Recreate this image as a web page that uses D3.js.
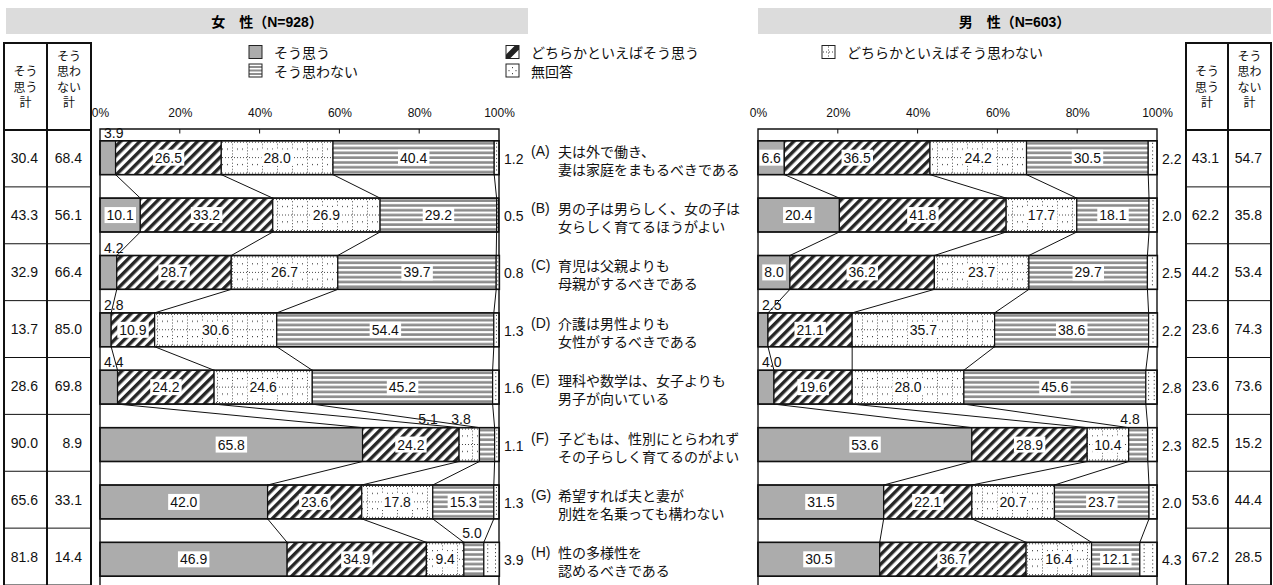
<!DOCTYPE html>
<html><head><meta charset="utf-8">
<script src="https://cdn.jsdelivr.net/npm/d3@7"></script>
<style>body{margin:0;background:#fff}svg{display:block}</style>
</head><body>
<svg id="c" width="1273" height="585"></svg>
<script>
// ---------------- DATA ----------------
const questions = ["A","B","C","D","E","F","G","H"];
const questionText = [
  ["夫は外で働き、","妻は家庭をまもるべきである"],
  ["男の子は男らしく、女の子は","女らしく育てるほうがよい"],
  ["育児は父親よりも","母親がするべきである"],
  ["介護は男性よりも","女性がするべきである"],
  ["理科や数学は、女子よりも","男子が向いている"],
  ["子どもは、性別にとらわれず","その子らしく育てるのがよい"],
  ["希望すれば夫と妻が","別姓を名乗っても構わない"],
  ["性の多様性を","認めるべきである"]
];
const categories = ["そう思う","どちらかといえばそう思う","どちらかといえばそう思わない","そう思わない","無回答"];
const female = [
  [3.9,26.5,28.0,40.4,1.2],
  [10.1,33.2,26.9,29.2,0.5],
  [4.2,28.7,26.7,39.7,0.8],
  [2.8,10.9,30.6,54.4,1.3],
  [4.4,24.2,24.6,45.2,1.6],
  [65.8,24.2,5.1,3.8,1.1],
  [42.0,23.6,17.8,15.3,1.3],
  [46.9,34.9,9.4,5.0,3.9]
];
const male = [
  [6.6,36.5,24.2,30.5,2.2],
  [20.4,41.8,17.7,18.1,2.0],
  [8.0,36.2,23.7,29.7,2.5],
  [2.5,21.1,35.7,38.6,2.2],
  [4.0,19.6,28.0,45.6,2.8],
  [53.6,28.9,10.4,4.8,2.3],
  [31.5,22.1,20.7,23.7,2.0],
  [30.5,36.7,16.4,12.1,4.3]
];
const femaleAgree    = [30.4,43.3,32.9,13.7,28.6,90.0,65.6,81.8];
const femaleDisagree = [68.4,56.1,66.4,85.0,69.8,8.9,33.1,14.4];
const maleAgree      = [43.1,62.2,44.2,23.6,23.6,82.5,53.6,67.2];
const maleDisagree   = [54.7,35.8,53.4,74.3,73.6,15.2,44.4,28.5];
const tickValues = [0,20,40,60,80,100];
const titles = ["女　性（N=928）","男　性（N=603）"];
const tableHeaders = [["そう","思う","計"],["そう","思わ","ない","計"]];

// ---------------- SETUP ----------------
const NUM = "'Liberation Sans', Arial, sans-serif";
const JP = "'Noto Sans CJK JP', sans-serif";
const MIX = "'Liberation Sans', 'Noto Sans CJK JP', sans-serif";
const svg = d3.select("#c");
const defs = svg.append("defs");

const pDiag = defs.append("pattern").attr("id","pDiag").attr("patternUnits","userSpaceOnUse")
  .attr("width",6.8).attr("height",6.8).attr("patternTransform","rotate(45)");
pDiag.append("rect").attr("width",6.8).attr("height",6.8).attr("fill","#fff");
pDiag.append("rect").attr("width",3.4).attr("height",6.8).attr("fill","#262626");

const yBar = d3.scaleBand().domain(questions).range([129, 588]).paddingInner(0.41).paddingOuter(0.205);
const yTab = d3.scaleBand().domain(questions).range([130, 585]);
const bw = yBar.bandwidth();

function horPattern(id, top) {
  const p = defs.append("pattern").attr("id", id).attr("patternUnits","userSpaceOnUse")
    .attr("x",0).attr("y",top).attr("width",4).attr("height",4.8);
  p.append("rect").attr("width",4).attr("height",4.8).attr("fill","#fff");
  p.append("rect").attr("y",1.2).attr("width",4).attr("height",2.6).attr("fill","#8a8a8a");
}
function gridPattern(id, top) {
  const h = (bw - 3) / 2;
  const p = defs.append("pattern").attr("id", id).attr("patternUnits","userSpaceOnUse")
    .attr("x",0).attr("y",top).attr("width",15).attr("height",h);
  p.append("rect").attr("width",15).attr("height",h).attr("fill","#fff");
  p.append("line").attr("x1",0).attr("x2",15).attr("y1",1.5).attr("y2",1.5)
    .attr("stroke","#444").attr("stroke-width",1).attr("stroke-dasharray","1,2");
  p.append("line").attr("x1",7.5).attr("x2",7.5).attr("y1",0).attr("y2",h)
    .attr("stroke","#444").attr("stroke-width",1).attr("stroke-dasharray","1,2.2");
  p.append("rect").attr("x",2).attr("y",h/2).attr("width",1).attr("height",1.2).attr("fill","#444");
  p.append("rect").attr("x",12).attr("y",h/2).attr("width",1).attr("height",1.2).attr("fill","#444");
}

const panels = [
  {data: female, agree: femaleAgree, disagree: femaleDisagree, x0: 100, x1: 499, band: [6,528], title: titles[0], table: [4,47,91], key: "f"},
  {data: male, agree: maleAgree, disagree: maleDisagree, x0: 758, x1: 1157, band: [758,1271], title: titles[1], table: [1186,1228,1271], key: "m"}
];

panels.forEach(P => {
  const x = d3.scaleLinear().domain([0,100]).range([P.x0, P.x1]);
  svg.append("rect").attr("x",P.band[0]).attr("y",8).attr("width",P.band[1]-P.band[0]).attr("height",26).attr("fill","#dcdcdc");
  svg.append("text").attr("x",(P.band[0]+P.band[1])/2).attr("y",21.5).attr("text-anchor","middle")
    .attr("dominant-baseline","central").attr("font-family",MIX).attr("font-weight","bold").attr("font-size",14).text(P.title);

  const ax = svg.append("g").attr("transform","translate(0,113)")
    .call(d3.axisTop(x).tickValues(tickValues).tickSize(0).tickFormat(d => d + "%"));
  ax.select(".domain").remove();
  ax.selectAll("text").attr("y",0).attr("dy",null).attr("dominant-baseline","central")
    .attr("font-family",NUM).attr("font-size",12).attr("fill","#111");

  svg.append("path").attr("d",`M${P.x0},590V129H${P.x1}V590`).attr("fill","none").attr("stroke","#111").attr("stroke-width",1.4);
  svg.selectAll(null).data(tickValues.slice(1,-1)).enter().append("line")
    .attr("x1",d=>x(d)).attr("x2",d=>x(d)).attr("y1",129).attr("y2",133.5).attr("stroke","#111").attr("stroke-width",1);

  const rows = P.data.map((vals, i) => {
    let cum = 0;
    const segs = vals.map((v,k) => { const s = {k, v, a: cum, b: cum + v}; cum += v; return s; });
    return {i, q: questions[i], top: yBar(questions[i]), segs};
  });

  const gConn = svg.append("g");
  for (let i = 0; i < rows.length - 1; i++) {
    for (let k = 0; k < 4; k++) {
      gConn.append("line")
        .attr("x1", x(rows[i].segs[k].b)).attr("y1", rows[i].top + bw)
        .attr("x2", x(rows[i+1].segs[k].b)).attr("y2", rows[i+1].top)
        .attr("stroke","#111").attr("stroke-width",1);
    }
  }

  rows.forEach(r => {
    const gid = `grid-${P.key}-${r.i}`, hid = `hor-${P.key}-${r.i}`;
    gridPattern(gid, r.top); horPattern(hid, r.top);
    const fills = ["#acacac","url(#pDiag)",`url(#${gid})`,`url(#${hid})`,"#fff"];
    const g = svg.append("g");
    r.segs.forEach(s => {
      const xa = x(s.a), xb = x(s.b);
      g.append("rect").attr("x",xa).attr("y",r.top).attr("width",Math.max(0,xb-xa)).attr("height",bw)
        .attr("fill",fills[s.k]).attr("stroke","#111").attr("stroke-width",1.2);
      if (s.k === 4) {
        const w = xb - xa, n = Math.max(1, Math.round(w / 7));
        for (let j = 0; j < n; j++) {
          const cx = xa + (j + 0.5) * w / n;
          g.append("line").attr("x1",cx).attr("x2",cx).attr("y1",r.top+2).attr("y2",r.top+bw-2)
            .attr("stroke","#444").attr("stroke-width",1).attr("stroke-dasharray","1.2,2.6");
        }
      }
    });
    g.append("rect").attr("x",x(0)).attr("y",r.top).attr("width",x(r.segs[4].b)-x(0)).attr("height",bw)
      .attr("fill","none").attr("stroke","#111").attr("stroke-width",1.5);

    const cy = r.top + bw/2;
    const above = r.segs.filter(s => s.k >= 1 && s.k <= 3 && s.v < 6);
    let pos = {};
    if (above.length > 1) {
      let cx = P.x1 - 38;
      above.slice().reverse().forEach(s => { pos[s.k] = cx; cx -= 33; });
    } else if (above.length === 1) {
      const s = above[0];
      pos[s.k] = Math.min(x((s.a+s.b)/2), P.x1 - 27);
    }
    r.segs.forEach(s => {
      const txt = s.v.toFixed(1);
      if (s.k === 4) {
        g.append("text").attr("x",P.x1+5).attr("y",cy+1).attr("dominant-baseline","central")
          .attr("font-family",NUM).attr("font-size",14).attr("fill","#111").text(txt);
      } else if (s.v >= 6) {
        const t = g.append("text").attr("x",x((s.a+s.b)/2)).attr("y",cy).attr("text-anchor","middle")
          .attr("dominant-baseline","central").attr("font-family",NUM).attr("font-size",14).attr("fill","#111").text(txt);
        const bb = t.node().getBBox();
        g.insert("rect", () => t.node()).attr("x",bb.x-2).attr("y",cy-8).attr("width",bb.width+4).attr("height",16).attr("fill","#fff");
      } else if (s.k === 0) {
        g.append("text").attr("x",x(0)+4).attr("y",r.top-8).attr("dominant-baseline","central")
          .attr("font-family",NUM).attr("font-size",14).attr("fill","#111").text(txt);
      } else {
        g.append("text").attr("x",pos[s.k]).attr("y",r.top-9).attr("text-anchor","middle").attr("dominant-baseline","central")
          .attr("font-family",NUM).attr("font-size",14).attr("fill","#111").text(txt);
      }
    });
  });

  const [t0,t1,t2] = P.table;
  const gt = svg.append("g");
  const hdrLines = [[70.5,86,101.5],[55,70.5,86,101.5]];
  [[t0,t1],[t1,t2]].forEach((c, ci) => {
    tableHeaders[ci].forEach((ln, li) => {
      gt.append("text").attr("x",(c[0]+c[1])/2).attr("y",hdrLines[ci][li]).attr("text-anchor","middle")
        .attr("dominant-baseline","central").attr("font-family",JP).attr("font-size",12).attr("fill","#111").text(ln);
    });
  });
  questions.forEach((q, i) => {
    const yy = yTab(q) + yTab.bandwidth()/2;
    gt.append("text").attr("x",t1-9).attr("y",yy).attr("text-anchor","end").attr("dominant-baseline","central")
      .attr("font-family",NUM).attr("font-size",14).attr("fill","#111").text(P.agree[i].toFixed(1));
    gt.append("text").attr("x",t2-9).attr("y",yy).attr("text-anchor","end").attr("dominant-baseline","central")
      .attr("font-family",NUM).attr("font-size",14).attr("fill","#111").text(P.disagree[i].toFixed(1));
    gt.append("line").attr("x1",t0).attr("x2",t2).attr("y1",yTab(q)+yTab.bandwidth()).attr("y2",yTab(q)+yTab.bandwidth())
      .attr("stroke","#111").attr("stroke-width",1);
  });
  [43,130].forEach(yy => gt.append("line").attr("x1",t0-1).attr("x2",t2+1).attr("y1",yy).attr("y2",yy).attr("stroke","#111").attr("stroke-width",2));
  [t0,t1,t2].forEach(xx => gt.append("line").attr("x1",xx).attr("x2",xx).attr("y1",43).attr("y2",590).attr("stroke","#111").attr("stroke-width",2));
});

// question labels
questions.forEach((q, i) => {
  const cy = yBar(q) + bw/2;
  svg.append("text").attr("x",531).attr("y",cy-7).attr("dominant-baseline","central")
    .attr("font-family",NUM).attr("font-size",14).attr("fill","#111").text(`(${q})`);
  questionText[i].forEach((ln, li) => {
    svg.append("text").attr("x",558).attr("y",cy-7+li*18).attr("dominant-baseline","central")
      .attr("font-family",JP).attr("font-size",14).attr("fill","#111").text(ln);
  });
});

// legend
const legendPos = [[249,52],[506,52],[822,52],[249,70.5],[506,70.5]];
const lg = svg.append("g");
categories.forEach((c, k) => {
  const [lx, ly] = legendPos[k];
  const s = 13, sx = lx, sy = ly - s/2;
  const item = lg.append("g");
  if (k === 0) {
    item.append("rect").attr("x",sx).attr("y",sy).attr("width",s).attr("height",s).attr("fill","#acacac");
  } else if (k === 1) {
    item.append("rect").attr("x",sx).attr("y",sy).attr("width",s).attr("height",s).attr("fill","#fff");
    item.append("polygon").attr("points",`${sx},${sy+s} ${sx},${sy+s-4} ${sx+s-4},${sy} ${sx+s},${sy} ${sx+s},${sy+4} ${sx+4},${sy+s}`).attr("fill","#222");
    item.append("polygon").attr("points",`${sx},${sy+s} ${sx},${sy+s-4} ${sx+4},${sy+s}`).attr("fill","#222");
  } else if (k === 2) {
    item.append("rect").attr("x",sx).attr("y",sy).attr("width",s).attr("height",s).attr("fill","#fff");
    item.append("line").attr("x1",sx+s/2).attr("x2",sx+s/2).attr("y1",sy+1).attr("y2",sy+s-1).attr("stroke","#444").attr("stroke-dasharray","1,2");
    item.append("line").attr("x1",sx+1).attr("x2",sx+s-1).attr("y1",sy+s/2).attr("y2",sy+s/2).attr("stroke","#444").attr("stroke-dasharray","1,2");
  } else if (k === 3) {
    item.append("rect").attr("x",sx).attr("y",sy).attr("width",s).attr("height",s).attr("fill","#fff");
    [2,5.5,9].forEach(o => item.append("rect").attr("x",sx).attr("y",sy+o).attr("width",s).attr("height",2).attr("fill","#8e8e8e"));
  } else {
    item.append("rect").attr("x",sx).attr("y",sy).attr("width",s).attr("height",s).attr("fill","#fff");
    [[6,3],[6,9],[2.5,6],[9.5,6]].forEach(d => item.append("rect").attr("x",sx+d[0]).attr("y",sy+d[1]).attr("width",1).attr("height",1.2).attr("fill","#444"));
  }
  item.append("rect").attr("x",sx).attr("y",sy).attr("width",s).attr("height",s).attr("fill","none").attr("stroke","#222").attr("stroke-width",1);
  item.append("text").attr("x",sx+s+12).attr("y",ly).attr("dominant-baseline","central")
    .attr("font-family",JP).attr("font-size",14).attr("fill","#111").text(c);
});
</script>
</body></html>
